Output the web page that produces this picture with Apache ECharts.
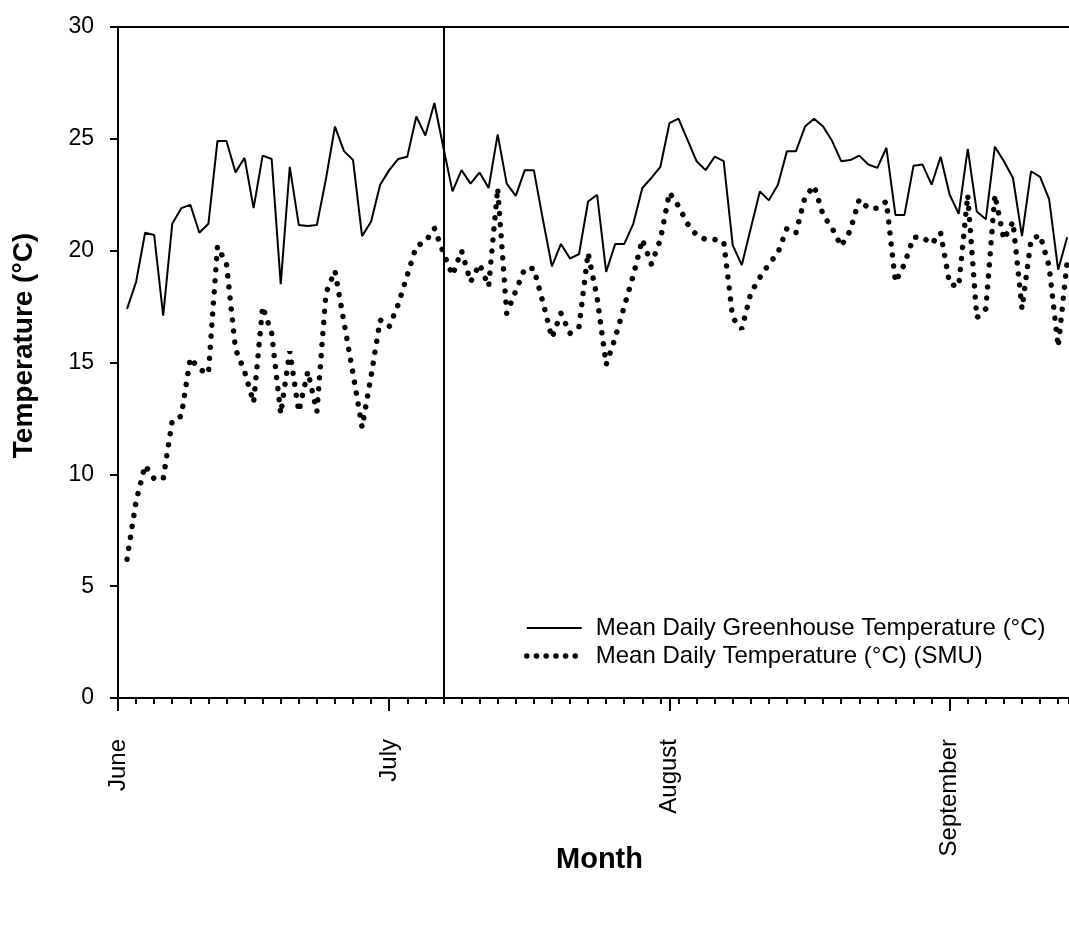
<!DOCTYPE html>
<html>
<head>
<meta charset="utf-8">
<script src="https://cdn.jsdelivr.net/npm/echarts@6/dist/echarts.min.js"></script>
<style>
html,body{margin:0;padding:0;background:#fff;}
#chart{width:1069px;height:926px;}
</style>
</head>
<body>
<div id="chart"></div>
<script>
// Day index counted from June 1 (= day 0)
const days = [];
for (let d = 1; d <= 105; d++) days.push(d);

const greenhouseTemp = [
  17.4, 18.6, 20.8, 20.7, 17.1, 21.2, 21.9, 22.05, 20.8, 21.2,
  24.9, 24.9, 23.5, 24.15, 21.9, 24.25, 24.1, 18.5, 23.75, 21.15,
  21.1, 21.15, 23.2, 25.55, 24.45, 24.05, 20.65, 21.3, 22.95, 23.6,
  24.1, 24.2, 26.0, 25.15, 26.6, 24.6, 22.65, 23.6, 23.0, 23.5,
  22.8, 25.2, 23.0, 22.45, 23.6, 23.6, 21.4, 19.3, 20.3, 19.65,
  19.85, 22.2, 22.5, 19.05, 20.3, 20.3, 21.2, 22.8, 23.25, 23.75,
  25.7, 25.9, 24.95, 24.0, 23.6, 24.2, 24.0, 20.25, 19.35, 21.0,
  22.65, 22.25, 22.95, 24.45, 24.45, 25.55, 25.9, 25.55, 24.9, 24.0,
  24.05, 24.25, 23.85, 23.7, 24.6, 21.6, 21.6, 23.8, 23.85, 22.95,
  24.2, 22.5, 21.65, 24.55, 21.75, 21.4, 24.65, 24.0, 23.25, 20.65,
  23.55, 23.3, 22.3, 19.15, 20.6
];

const smuTemp = [
  6.2, 8.8, 10.4, 9.8, 9.8, 12.4, 12.6, 15.2, 14.7, 14.5,
  20.2, 19.4, 15.6, 14.6, 13.2, 17.5, 16.3, 12.7, 15.5, 12.8,
  14.6, 12.8, 18.1, 19.1, 16.8, 14.5, 12.1, 14.4, 16.9, 16.6,
  17.6, 18.9, 20.2, 20.4, 21.0, 19.9, 18.9, 20.0, 18.6, 19.4,
  18.4, 22.8, 17.2, 18.2, 19.2, 19.2, 17.7, 16.1, 17.2, 16.3,
  16.6, 19.9, 17.9, 14.9, 16.1, 17.5, 18.9, 20.5, 19.4, 20.5,
  22.6, 22.0, 21.2, 20.7, 20.5, 20.5, 20.4, 17.0, 16.5, 18.1,
  18.8, 19.4, 19.9, 21.0, 20.8, 22.4, 22.9, 21.6, 21.0, 20.2,
  20.9, 22.3, 21.9, 21.9, 22.2, 18.6, 19.4, 20.6, 20.6, 20.3,
  20.8, 18.5, 18.4, 22.5, 17.0, 17.4, 22.5, 20.5, 21.3, 17.4,
  20.5, 20.7, 19.3, 15.7, 19.5
];

const monthLabels = ['June', 'July', 'August', 'September'];
const monthStarts = [0, 30, 61, 92];
const markerDay = 36;

const seriesNames = [
  'Mean Daily Greenhouse Temperature (\u00B0C)',
  'Mean Daily Temperature (\u00B0C) (SMU)'
];

const FONT = "'Liberation Sans', Arial, sans-serif";

const chart = echarts.init(document.getElementById('chart'), null, {renderer: 'canvas'});

const dotStyleSeries = {color: '#000', width: 5.5, type: [0.1, 11], cap: 'round'};
const dotStyleLegend = {color: '#000', width: 5.5, type: [0.1, 9.6], cap: 'round'};

chart.setOption({
  animation: false,
  backgroundColor: '#fff',
  grid: {
    left: 118, right: -2, top: 27, bottom: 228,
    show: false
  },
  legend: {
    orient: 'vertical',
    left: 524,
    top: 616,
    padding: 0,
    itemWidth: 55,
    itemHeight: 14,
    itemGap: 4,
    selectedMode: false,
    textStyle: {fontFamily: FONT, fontSize: 24, color: '#000', padding: [0, 0, 0, 9]},
    data: [
      {name: seriesNames[0], itemStyle: {opacity: 0}, lineStyle: {color: '#000', width: 2, type: 'solid'}},
      {name: seriesNames[1], itemStyle: {opacity: 0}, lineStyle: dotStyleLegend}
    ]
  },
  xAxis: [
    {
      type: 'value', min: 0, max: 105.2, position: 'bottom',
      name: 'Month', nameLocation: 'middle', nameGap: 147, nameMoveOverlap: false,
      nameTextStyle: {fontFamily: FONT, fontSize: 29, fontWeight: 'bold', color: '#000', padding: [0, 0, 0, 12]},
      axisLine: {show: true, lineStyle: {color: '#000', width: 2}},
      axisTick: {show: true, inside: false, length: 13, customValues: monthStarts, lineStyle: {color: '#000', width: 2}},
      axisLabel: {
        show: true, customValues: monthStarts, rotate: 90, margin: 41,
        fontFamily: FONT, fontSize: 24, color: '#000',
        formatter: function (v) { const i = monthStarts.indexOf(v); return i >= 0 ? monthLabels[i] : ''; }
      },
      splitLine: {show: false}
    },
    {
      type: 'value', min: 0, max: 105.2, interval: 2, position: 'bottom',
      axisLine: {show: false},
      axisTick: {show: true, inside: false, length: 6, lineStyle: {color: '#000', width: 2}},
      axisLabel: {show: false},
      splitLine: {show: false}
    },
    {
      type: 'value', min: 0, max: 105.2, position: 'top',
      axisLine: {show: true, lineStyle: {color: '#000', width: 2}},
      axisTick: {show: false},
      axisLabel: {show: false},
      splitLine: {show: false}
    }
  ],
  yAxis: {
    type: 'value', min: 0, max: 30, interval: 5,
    name: 'Temperature (\u00B0C)', nameLocation: 'middle', nameGap: 80, nameMoveOverlap: false,
    nameTextStyle: {fontFamily: FONT, fontSize: 28, fontWeight: 'bold', color: '#000', padding: [0, 0, 0, 34]},
    axisLine: {show: true, lineStyle: {color: '#000', width: 2}},
    axisTick: {show: true, inside: false, length: 8, lineStyle: {color: '#000', width: 2}},
    axisLabel: {margin: 24, fontFamily: FONT, fontSize: 23, color: '#000'},
    splitLine: {show: false}
  },
  series: [
    {
      name: seriesNames[0],
      type: 'line',
      xAxisIndex: 0,
      symbol: 'none',
      data: days.map((d, i) => [d, greenhouseTemp[i]]),
      lineStyle: {color: '#000', width: 2},
      itemStyle: {color: '#000'},
      markLine: {
        silent: true,
        symbol: ['none', 'none'],
        label: {show: false},
        lineStyle: {color: '#000', width: 2, type: 'solid'},
        data: [{xAxis: markerDay}]
      }
    },
    {
      name: seriesNames[1],
      type: 'line',
      xAxisIndex: 0,
      symbol: 'none',
      data: days.map((d, i) => [d, smuTemp[i]]),
      lineStyle: dotStyleSeries,
      itemStyle: {color: '#000'}
    }
  ]
});
</script>
</body>
</html>
